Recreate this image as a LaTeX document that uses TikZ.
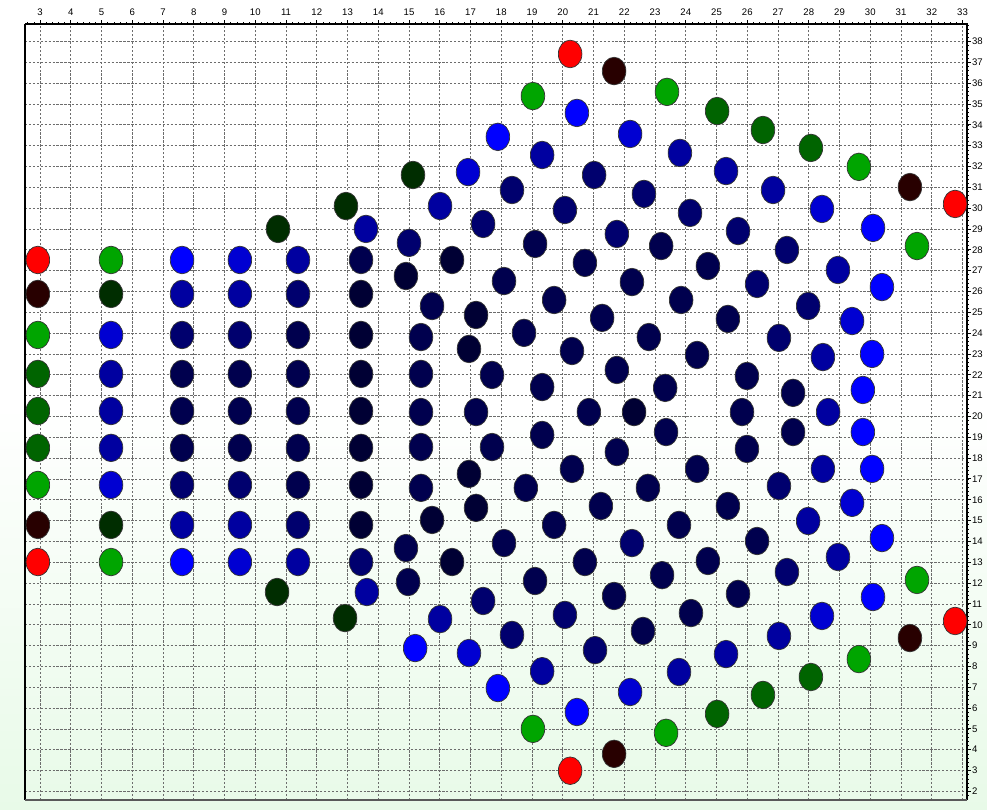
\documentclass[tikz,border=0pt]{standalone}
\usepackage{fontspec}
\setmainfont{Liberation Sans}
\usetikzlibrary{calc}
\definecolor{bggreen}{RGB}{232, 250, 232}
\definecolor{redpt}{RGB}{255, 0, 0}
\definecolor{brownpt}{RGB}{40, 0, 0}
\definecolor{greenpt}{RGB}{0, 165, 0}
\definecolor{forestpt}{RGB}{0, 100, 0}
\definecolor{pinept}{RGB}{0, 45, 0}
\definecolor{blueA}{RGB}{0, 0, 255}
\definecolor{blueB}{RGB}{0, 0, 210}
\definecolor{blueC}{RGB}{0, 0, 160}
\definecolor{blueD}{RGB}{0, 0, 110}
\definecolor{blueE}{RGB}{0, 0, 78}
\definecolor{blueF}{RGB}{0, 0, 52}
\tikzset{
  gridline/.style={gray!85!black, line width=0.45pt, dash pattern=on 1.6pt off 1.2pt},
  frameline/.style={black, line width=1.1pt},
  tickline/.style={black, line width=0.6pt},
  axislabel/.style={font=\fontsize{6.8}{7}\selectfont, inner sep=0pt},
  dot/.style={draw=black!80, line width=0.5pt}
}

\begin{document}
\begin{tikzpicture}[x=0.76875cm, y=0.52075cm]
    % Background and frame corners
    \useasboundingbox (1.699,1.106) rectangle (33.797,39.992);
    \shade[top color=white, bottom color=bggreen, middle color=white] (1.699,1.106) rectangle (33.797,39.992);
    \coordinate (SW) at (2.512,1.586);
    \coordinate (NE) at (33.146,38.84);

    % Dashed grid
    \foreach \gx in {3,...,33}
        \draw[gridline] (\gx,0 |- SW) -- (\gx,0 |- NE);
    \foreach \gy in {2,...,38}
        \draw[gridline] (SW |- 0,\gy) -- (NE |- 0,\gy);

    % Frame with ticks
    \draw[frameline] (SW |- NE) -- (NE) -- (NE |- SW);
    \draw[black, line width=0.8pt] (SW |- NE) -- (SW);
    \draw[gray!70!black, line width=0.9pt] (SW) -- (NE |- SW);
    \foreach \gx in {3,...,33}
        \draw[tickline] (\gx,0 |- NE) -- ++(0,0.1cm);
    \foreach \gx in {2.6,2.8,...,33.0}
        \draw[tickline, line width=0.4pt] (\gx,0 |- NE) -- ++(0,0.04cm);
    \foreach \gy in {2,...,38}
        \draw[tickline] (NE |- 0,\gy) -- ++(0.1cm,0);
    \foreach \gy in {1.8,2.0,...,38.8}
        \draw[tickline, line width=0.4pt] (NE |- 0,\gy) -- ++(0.05cm,0);

    % Axis labels
    \foreach \gx in {3,...,33}
        \node[axislabel] (top\gx) at (\gx,39.42) {\gx};
    \foreach \gy in {2,...,38}
        \node[axislabel, anchor=west] (right\gy) at (33.30,\gy) {\gy};

    % Left block: six columns of nine
    \foreach \py/\ca/\cb/\cc/\cd/\ce/\cf in {
        27.51/redpt/greenpt/blueA/blueB/blueC/blueE,
        25.88/brownpt/pinept/blueC/blueC/blueD/blueF,
        23.91/greenpt/blueB/blueD/blueD/blueE/blueF,
        22.04/forestpt/blueC/blueE/blueE/blueE/blueF,
        20.26/forestpt/blueC/blueE/blueE/blueE/blueF,
        18.49/forestpt/blueC/blueE/blueE/blueE/blueF,
        16.71/greenpt/blueB/blueD/blueD/blueE/blueF,
        14.79/brownpt/pinept/blueC/blueC/blueD/blueF,
        13.01/redpt/greenpt/blueA/blueB/blueC/blueD}
        \foreach \px/\pc in {2.93/\ca, 5.31/\cb, 7.62/\cc, 9.50/\cd, 11.39/\ce, 13.44/\cf}
            \path[dot, fill=\pc] (\px,\py) ellipse [x radius=0.295cm, y radius=0.345cm];

    % Main cluster
    \foreach \px/\py/\pc in {
        % left edge
        10.74/29.00/pinept, 10.71/11.57/pinept, 12.95/30.10/pinept, 12.92/10.32/pinept,
        13.60/29.00/blueC, 13.63/11.57/blueC, 15.13/31.59/pinept, 15.20/8.88/blueA,
        % upper part
        20.24/37.40/redpt, 21.67/36.58/brownpt, 19.03/35.38/greenpt, 23.39/35.58/greenpt,
        20.46/34.57/blueA, 22.19/33.56/blueB, 17.89/33.42/blueA, 19.33/32.55/blueC,
        23.81/32.65/blueC, 16.92/31.73/blueB, 21.02/31.59/blueD, 18.35/30.87/blueD,
        22.64/30.68/blueD, 16.01/30.10/blueC, 20.07/29.91/blueD, 24.14/29.77/blueD,
        17.41/29.24/blueD, 15.00/28.33/blueD, 19.10/28.28/blueE, 21.76/28.76/blueD,
        23.20/28.18/blueE, 16.40/27.51/blueF, 14.90/26.74/blueF, 20.72/27.37/blueE,
        18.09/26.50/blueE, 22.25/26.45/blueE, 24.72/27.22/blueE, 15.75/25.30/blueE,
        17.18/24.87/blueF, 19.72/25.59/blueE, 23.85/25.59/blueE, 21.28/24.73/blueE,
        15.39/23.81/blueE, 18.74/24.01/blueE, 22.80/23.81/blueE,
        % upper right
        25.02/34.66/forestpt, 26.51/33.75/forestpt, 28.07/32.89/forestpt, 29.63/31.98/greenpt,
        31.29/31.01/brownpt, 32.76/30.20/redpt, 25.31/31.78/blueC, 26.84/30.87/blueC,
        28.43/29.96/blueB, 30.09/29.05/blueA, 31.52/28.18/greenpt, 25.70/28.90/blueD,
        27.29/27.99/blueD, 28.95/27.03/blueC, 30.38/26.21/blueA, 26.32/26.36/blueD,
        27.98/25.30/blueD, 29.41/24.58/blueB, 25.37/24.68/blueE, 27.03/23.77/blueD,
        % middle
        15.39/22.04/blueE, 15.39/20.21/blueE, 15.39/18.53/blueE, 15.39/16.57/blueE,
        16.95/23.24/blueF, 20.30/23.14/blueE, 17.70/21.99/blueE, 21.76/22.23/blueE,
        19.33/21.41/blueE, 23.33/21.37/blueE, 17.18/20.21/blueE, 20.85/20.21/blueE,
        22.32/20.21/blueF, 19.33/19.11/blueE, 23.36/19.25/blueE, 17.70/18.53/blueE,
        21.76/18.29/blueE, 20.30/17.48/blueE, 16.95/17.24/blueF, 18.80/16.57/blueE,
        22.77/16.57/blueE, 17.18/15.61/blueF, 21.24/15.70/blueE, 15.75/15.03/blueF,
        19.72/14.79/blueE, 23.78/14.79/blueE, 14.90/13.68/blueE, 18.09/13.92/blueE,
        22.25/13.92/blueD, 16.40/13.01/blueF, 20.72/13.01/blueE, 23.23/12.38/blueE,
        % middle right
        24.37/22.95/blueE, 28.46/22.85/blueC, 30.06/23.00/blueA, 25.99/21.94/blueE,
        27.49/21.13/blueE, 29.76/21.27/blueA, 25.83/20.21/blueE, 28.63/20.21/blueC,
        27.49/19.25/blueE, 29.76/19.25/blueA, 25.99/18.44/blueE, 24.37/17.48/blueE,
        28.46/17.48/blueC, 30.06/17.48/blueA, 27.03/16.66/blueD, 29.41/15.85/blueB,
        25.37/15.70/blueE, 27.98/14.98/blueC, 30.38/14.16/blueA, 26.32/14.02/blueE,
        28.95/13.25/blueC, 24.72/13.06/blueE, 27.29/12.53/blueD, 31.52/12.15/greenpt,
        % lower part
        14.97/12.05/blueE, 19.10/12.10/blueE, 21.67/11.38/blueE, 17.41/11.14/blueD,
        20.07/10.47/blueD, 22.61/9.70/blueE, 16.01/10.27/blueC, 18.35/9.51/blueD,
        21.05/8.78/blueD, 16.95/8.64/blueB, 19.33/7.77/blueC, 23.78/7.73/blueC,
        17.89/6.96/blueA, 22.19/6.77/blueB, 20.46/5.81/blueA, 19.03/5.00/greenpt,
        23.36/4.81/greenpt, 21.67/3.80/brownpt, 20.24/2.99/redpt,
        % lower right
        25.70/11.48/blueE, 24.17/10.56/blueE, 30.09/11.33/blueA, 28.43/10.42/blueB,
        32.76/10.18/redpt, 27.03/9.46/blueC, 31.29/9.36/brownpt, 25.31/8.59/blueC,
        29.63/8.35/greenpt, 28.07/7.49/forestpt, 26.51/6.63/forestpt, 25.02/5.72/forestpt}
        \path[dot, fill=\pc] (\px,\py) ellipse [x radius=0.295cm, y radius=0.345cm];
\end{tikzpicture}
\end{document}
